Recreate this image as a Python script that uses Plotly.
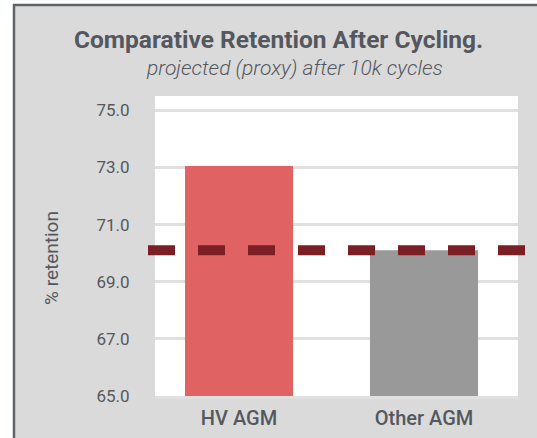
import plotly.graph_objects as go

categories = ["HV AGM", "Other AGM"]
retention = [73.05, 70.1]
bar_colors = ["#e06262", "#999999"]
reference_level = 70.1
y_tick_values = [65, 67, 69, 71, 73, 75]
y_tick_labels = ["65.0", "67.0", "69.0", "71.0", "73.0", "75.0"]

W, H = 537, 438
L, R, T, B = 155, 518, 96, 396  # plot area in px


def px(xp):
    return (xp - L) / (R - L)


def py(yp):
    return (B - yp) / (B - T)


TEXT = "#54585e"
FONT = "Roboto"

fig = go.Figure()
fig.add_trace(go.Bar(
    x=list(range(len(categories))),
    y=retention,
    marker=dict(color=bar_colors, line=dict(width=0)),
    width=0.584,
    hoverinfo="skip",
))

fig.update_layout(
    width=W, height=H, autosize=False,
    margin=dict(l=L, r=W - R, t=T, b=H - B, pad=0),
    paper_bgcolor="#dadada",
    plot_bgcolor="#ffffff",
    showlegend=False,
    font=dict(family=FONT, color=TEXT),
    xaxis=dict(
        range=[-0.4541, 1.5081],
        tickvals=list(range(len(categories))),
        ticktext=categories,
        showgrid=False, zeroline=False,
        showline=True, linecolor="#e0e0e0", linewidth=3,
        tickfont=dict(size=20, color=TEXT, family=FONT, weight=500),
        ticks="outside", ticklen=2, tickcolor="rgba(0,0,0,0)",
        automargin=False,
        fixedrange=True,
    ),
    yaxis=dict(
        range=[65, 75.5],
        tickvals=y_tick_values,
        ticktext=y_tick_labels,
        showgrid=True, gridcolor="#e0e0e0", gridwidth=3,
        zeroline=False, showline=False,
        tickfont=dict(size=17, color=TEXT, family=FONT),
        ticks="outside", ticklen=21, tickcolor="rgba(0,0,0,0)",
        automargin=False,
        fixedrange=True,
    ),
)

# reference (dashed) level
fig.add_shape(
    type="line", xref="paper", yref="y",
    x0=px(148), x1=px(532), y0=reference_level, y1=reference_level,
    line=dict(color="#7b1f24", width=10, dash="27px,23px"),
    layer="above",
)

# frame: white page strips + dark border
fig.add_shape(type="rect", xref="paper", yref="paper",
              x0=px(-5), x1=px(13), y0=py(-5), y1=py(H + 5),
              fillcolor="#ffffff", line=dict(width=0), layer="below")
fig.add_shape(type="rect", xref="paper", yref="paper",
              x0=px(-5), x1=px(W + 5), y0=py(4), y1=py(-5),
              fillcolor="#ffffff", line=dict(width=0), layer="below")
fig.add_shape(type="line", xref="paper", yref="paper",
              x0=px(14), x1=px(14), y0=py(4), y1=py(H + 5),
              line=dict(color="#5f6368", width=2.5), layer="below")
fig.add_shape(type="line", xref="paper", yref="paper",
              x0=px(13), x1=px(W + 5), y0=py(5), y1=py(5),
              line=dict(color="#5f6368", width=2.5), layer="below")

fig.add_annotation(
    text="<b>Comparative Retention After Cycling.</b>",
    xref="paper", yref="paper", x=px(278), y=py(39),
    xanchor="center", yanchor="middle", showarrow=False,
    font=dict(size=24.5, color=TEXT, family=FONT),
)
fig.add_annotation(
    text="<i>projected (proxy) after 10k cycles</i>",
    xref="paper", yref="paper", x=px(294), y=py(68),
    xanchor="center", yanchor="middle", showarrow=False,
    font=dict(size=21, color=TEXT, family=FONT, weight=300),
)
fig.add_annotation(
    text="% retention",
    xref="paper", yref="paper", x=px(51), y=py(258),
    xanchor="center", yanchor="middle", showarrow=False, textangle=-90,
    font=dict(size=19, color=TEXT, family=FONT),
)

fig.write_html(
    "out.html",
    config={"displayModeBar": False, "responsive": False},
    post_script="document.body.style.margin='0';document.body.style.overflow='hidden';",
)
